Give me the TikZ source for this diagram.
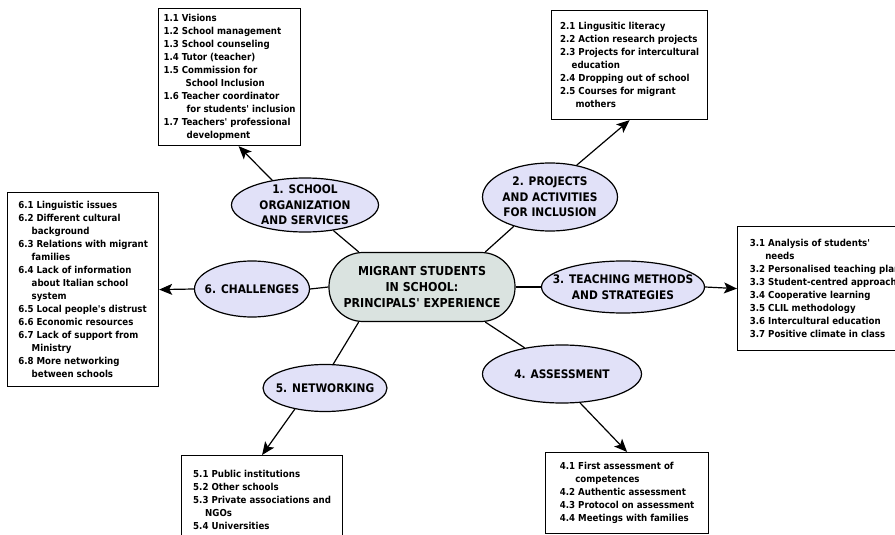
\documentclass[tikz,border=0pt]{standalone}
\usepackage{fontspec}
\setmainfont{DejaVu Sans Condensed}[Ligatures=TeXOff]
\usetikzlibrary{shapes.geometric, arrows.meta}
\definecolor{topicfill}{RGB}{225,225,248}
\definecolor{hubfill}{RGB}{218,227,224}
\newcommand{\wrapind}[1][1.4em]{\hspace*{#1}}
\tikzstyle{every node}=[font=\bfseries]
\tikzstyle{topic} = [ellipse, draw, fill=topicfill, line width=1.2pt, align=center, inner xsep=-15pt, inner ysep=-5pt, font=\fontsize{11.8}{15.5}\selectfont\bfseries]
\tikzstyle{hub} = [rectangle, draw, fill=hubfill, line width=1.2pt, rounded corners=34pt, align=center, minimum width=186pt, minimum height=69pt, font=\fontsize{12.3}{16}\selectfont\bfseries]
\tikzstyle{items} = [rectangle, draw, line width=1.2pt, anchor=north west, align=left, inner sep=2pt, font=\fontsize{9.6}{13}\selectfont\bfseries]
\tikzstyle{line} = [draw, line width=1.2pt]
\tikzstyle{arrow} = [line, -{Stealth[length=13pt, width=11pt, inset=3pt]}]

\begin{document}
\begin{tikzpicture}[x=1pt, y=-1pt]
    \useasboundingbox (0,0) rectangle (895,535);
    % Centre and topics
    \node [hub] (migrant) at (422,287) {MIGRANT STUDENTS\\IN SCHOOL:\\PRINCIPALS' EXPERIENCE};
    \node [topic, minimum width=147pt, minimum height=54pt] (org) at (305,205) {1. SCHOOL\\ORGANIZATION\\AND SERVICES};
    \node [topic, minimum width=135pt, minimum height=68pt] (proj) at (550,197) {2. PROJECTS\\AND ACTIVITIES\\FOR INCLUSION};
    \node [topic, minimum width=163pt, minimum height=52pt] (teach) at (623,287) {3. TEACHING METHODS\\AND STRATEGIES};
    \node [topic, minimum width=159pt, minimum height=58pt] (assess) at (562,374) {4. ASSESSMENT};
    \node [topic, minimum width=124pt, minimum height=47pt] (net) at (325,388) {5. NETWORKING};
    \node [topic, minimum width=115pt, minimum height=56pt] (chall) at (252,289) {6. CHALLENGES};
    % Item boxes
    \node [items, minimum width=142pt, minimum height=137pt] (orgbox) at (158,8) {1.1 Visions\\1.2 School management\\1.3 School counseling\\1.4 Tutor (teacher)\\1.5 Commission for\\\wrapind[2.3em]School Inclusion\\1.6 Teacher coordinator\\\wrapind[2.4em]for students' inclusion\\1.7 Teachers' professional\\\wrapind[2.4em]development};
    \node [items, minimum width=156pt, minimum height=109pt] (projbox) at (551,10) {2.1 Lingusitic literacy\\2.2 Action research projects\\2.3 Projects for intercultural\\\wrapind[1.2em]education\\2.4 Dropping out of school\\2.5 Courses for migrant\\\wrapind[1.6em]mothers};
    \node [items, minimum width=175pt, minimum height=124pt] (teachbox) at (737,226) {3.1 Analysis of students'\\\wrapind[1.6em]needs\\3.2 Personalised teaching plan\\3.3 Student-centred approach\\3.4 Cooperative learning\\3.5 CLIL methodology\\3.6 Intercultural education\\3.7 Positive climate in class};
    \node [items, minimum width=163pt, minimum height=81pt] (assessbox) at (545,452) {4.1 First assessment of\\\wrapind[1.6em]competences\\4.2 Authentic assessment\\4.3 Protocol on assessment\\4.4 Meetings with families};
    \node [items, minimum width=161pt, minimum height=88pt] (netbox) at (181,455) {5.1 Public institutions\\5.2 Other schools\\5.3 Private associations and\\\wrapind[1.25em]NGOs\\5.4 Universities};
    \node [items, minimum width=151pt, minimum height=194pt] (challbox) at (7,192) {6.1 Linguistic issues\\6.2 Different cultural\\\wrapind background\\6.3 Relations with migrant\\\wrapind families\\6.4 Lack of information\\\wrapind about Italian school\\\wrapind system\\6.5 Local people's distrust\\6.6 Economic resources\\6.7 Lack of support from\\\wrapind Ministry\\6.8 More networking\\\wrapind between schools};
    % Centre to topics
    \path [line] (migrant.151) -- (org.318);
    \path [line] (migrant.29) -- (proj.219);
    \path [line] (migrant.east) -- (teach.west);
    \path [line] (migrant.-29) -- (assess.145);
    \path [line] (migrant.-151) -- (net.71);
    \path [line] (migrant.west) -- (chall.east);
    % Topics to boxes
    \path [arrow] (org.143) -- ([xshift=9pt]orgbox.south);
    \path [arrow] (proj.50) -- (projbox.south);
    \path [arrow] (teach.east) -- (teachbox.west);
    \path [arrow] (assess.-58) -- (assessbox.north);
    \path [arrow] (net.215) -- (netbox.north);
    \path [arrow] (chall.west) -- (challbox.east);
\end{tikzpicture}
\end{document}
